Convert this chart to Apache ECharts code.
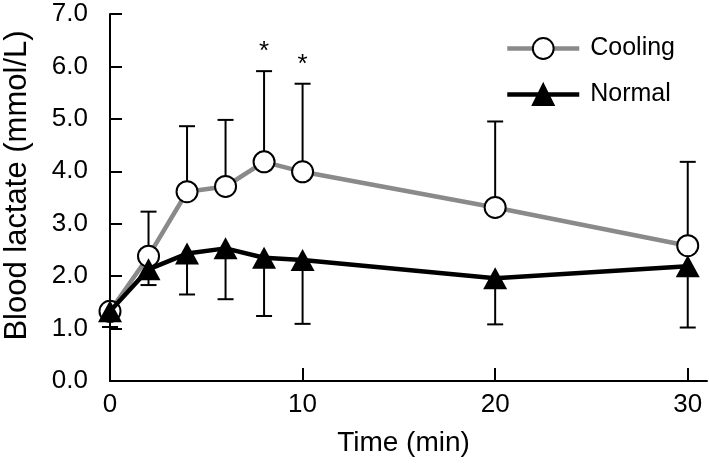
<!DOCTYPE html>
<html>
<head>
<meta charset="utf-8">
<script src="https://cdn.jsdelivr.net/npm/echarts@6/dist/echarts.min.js"></script>
<style>html,body{margin:0;padding:0;background:#fff}#c{width:709px;height:468px}</style>
</head>
<body>
<div id="c"></div>
<script>
const times = [0, 2, 4, 6, 8, 10, 20, 30];
const coolingMean = [1.33, 2.38, 3.61, 3.71, 4.18, 3.99, 3.31, 2.58];
const coolingUpper = [1.33, 3.23, 4.86, 4.98, 5.91, 5.67, 4.95, 4.18];
const normalMean = [1.33, 2.13, 2.43, 2.53, 2.35, 2.31, 1.96, 2.19];
const normalLower = [1.03, 1.83, 1.65, 1.56, 1.24, 1.09, 1.08, 1.02];
const starTimes = [8, 10];
const xTicks = [0, 10, 20, 30];

const FONT = 'Liberation Sans, Arial, sans-serif';
const chart = echarts.init(document.getElementById('c'), null, {renderer: 'canvas'});

function errData(mean, end) {
  return times.map((t, i) => [t, mean[i], end[i]]);
}
function renderErr(params, api) {
  const x = api.value(0), m = api.value(1), e = api.value(2);
  const p0 = api.coord([x, m]);
  const p1 = api.coord([x, e]);
  const half = 8;
  return {
    type: 'group',
    children: [
      {type: 'line', shape: {x1: p0[0], y1: p0[1], x2: p1[0], y2: p1[1]}, style: {stroke: '#000', lineWidth: 2}},
      {type: 'line', shape: {x1: p1[0] - half, y1: p1[1], x2: p1[0] + half, y2: p1[1]}, style: {stroke: '#000', lineWidth: 2}}
    ]
  };
}
const starData = starTimes.map(t => [t, coolingUpper[times.indexOf(t)]]);

chart.setOption({
  animation: false,
  backgroundColor: '#fff',
  grid: {left: 110, right: 2, top: 14, bottom: 87, containLabel: false, outerBoundsMode: 'none'},
  legend: {
    orient: 'vertical', left: 500, top: 31,
    itemWidth: 72, itemHeight: 26, itemGap: 21,
    lineStyle: {width: 4.5},
    itemStyle: {borderWidth: 2},
    textStyle: {fontFamily: FONT, fontSize: 25, color: '#000', padding: [0, 0, 0, 6]},
    data: ['Cooling', 'Normal']
  },
  xAxis: {
    type: 'value', min: 0, max: 31, interval: 10,
    name: 'Time (min)', nameLocation: 'middle', nameGap: 48,
    nameTextStyle: {fontFamily: FONT, fontSize: 28, color: '#000', padding: [0, 10, 0, 0]},
    axisLine: {show: true, lineStyle: {color: '#000', width: 2}},
    axisTick: {show: true, inside: true, length: 13, lineStyle: {color: '#000', width: 2}, customValues: xTicks},
    axisLabel: {fontFamily: FONT, fontSize: 26, color: '#000', margin: 11, customValues: xTicks},
    splitLine: {show: false}
  },
  yAxis: {
    type: 'value', min: 0, max: 7, interval: 1,
    name: 'Blood lactate (mmol/L)', nameLocation: 'middle', nameGap: 77,
    nameTextStyle: {fontFamily: FONT, fontSize: 31, color: '#000', padding: [0, 0, 0, 24]},
    axisLine: {show: true, lineStyle: {color: '#000', width: 2}},
    axisTick: {show: true, inside: true, length: 12, lineStyle: {color: '#000', width: 2}},
    axisLabel: {fontFamily: FONT, fontSize: 26, color: '#000', margin: 22, formatter: v => v.toFixed(1)},
    splitLine: {show: false}
  },
  series: [
    {
      name: 'coolingErr', type: 'custom', renderItem: renderErr, data: errData(coolingMean, coolingUpper), z: 1, silent: true
    },
    {
      name: 'normalErr', type: 'custom', renderItem: renderErr, data: errData(normalMean, normalLower), z: 1, silent: true
    },
    {
      name: 'Cooling', type: 'line', data: times.map((t, i) => [t, coolingMean[i]]),
      symbol: 'circle', symbolSize: 21, z: 2,
      lineStyle: {color: '#8a8a8a', width: 4.5},
      itemStyle: {color: '#fff', borderColor: '#000', borderWidth: 2}
    },
    {
      name: 'Normal', type: 'line', data: times.map((t, i) => [t, normalMean[i]]),
      symbol: 'triangle', symbolSize: [24, 22], z: 3,
      lineStyle: {color: '#000', width: 4.5},
      itemStyle: {color: '#000', borderColor: '#000', borderWidth: 0}
    },
    {
      name: 'stars', type: 'custom', data: starData, z: 4, silent: true,
      renderItem: function (params, api) {
        const p = api.coord([api.value(0), api.value(1)]);
        return {type: 'text', x: p[0], y: p[1] - 19, style: {text: '*', fontFamily: FONT, fontSize: 26, fill: '#000', align: 'center', verticalAlign: 'middle'}};
      }
    }
  ]
});
</script>
</body>
</html>
